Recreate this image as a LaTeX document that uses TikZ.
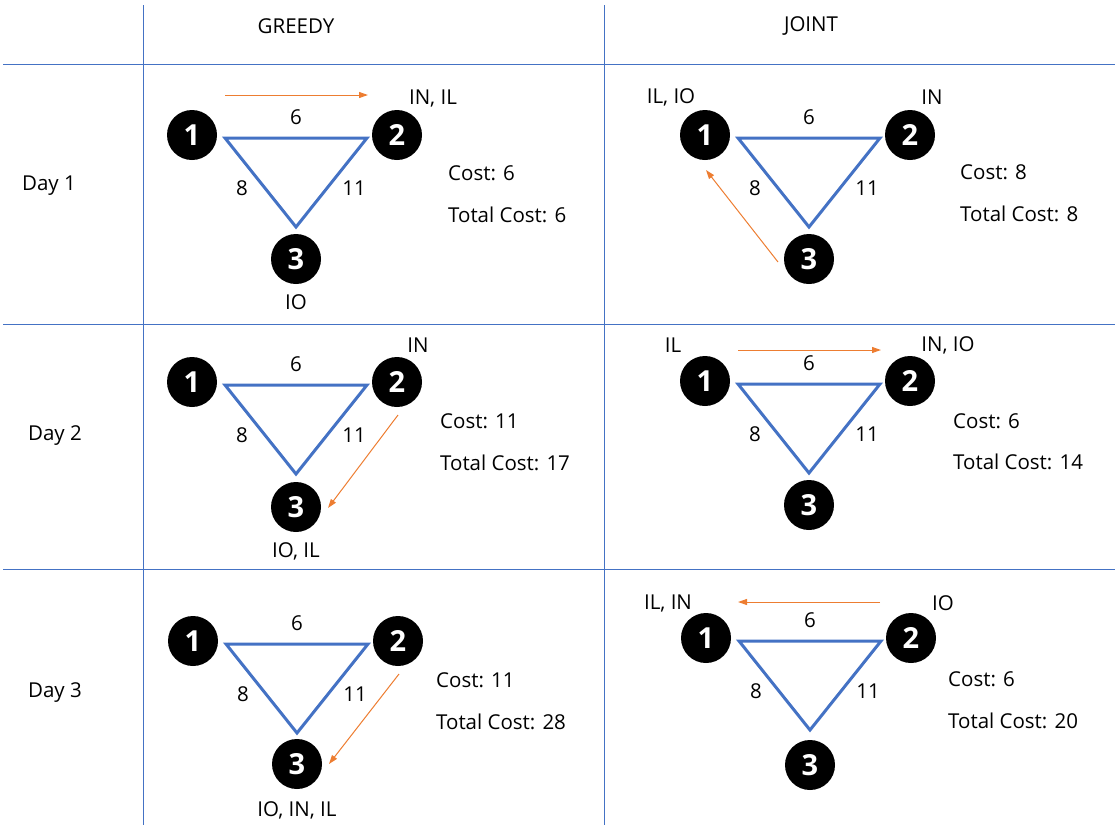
\documentclass[tikz,border=0pt]{standalone}
\usepackage{fontspec}
\setmainfont{Open Sans}
\usetikzlibrary{arrows.meta}
\definecolor{gridblue}{RGB}{68,114,196}
\definecolor{edgeblue}{RGB}{68,114,196}
\definecolor{arroworange}{RGB}{237,125,49}
\tikzset{
  gridline/.style={draw=gridblue,line width=1pt},
  vert/.style={circle,fill=black,minimum size=50pt,inner sep=0pt,text=white,font=\fontsize{29}{31}\selectfont\bfseries},
  edgeline/.style={draw=edgeblue,line width=3pt,line join=miter},
  lbl/.style={font=\fontsize{20.5}{24}\selectfont,inner sep=0pt},
  costlbl/.style={lbl,anchor=west},
  movearrow/.style={draw=arroworange,line width=1pt,-{Triangle[length=9pt,width=6pt]}}
}
% #1 prefix, #2 x of node 1, #3 y of nodes 1,2, #4 y of node 3
\newcommand{\triCell}[4]{%
  \node[vert] (#1n1) at (#2,#3) {1};
  \node[vert] (#1n2) at ({#2+205},#3) {2};
  \node[vert] (#1n3) at ({#2+104},#4) {3};
  \coordinate (#1a) at ({#2+33},{#3+3});
  \coordinate (#1b) at ({#2+175},{#3+3});
  \coordinate (#1c) at ({#2+104},{#3+92});
  \draw[edgeline] (#1a) -- (#1b) -- (#1c) -- cycle;
  \node[lbl] (#1w12) at ({#2+104},{#3-18}) {6};
  \node[lbl] (#1w13) at ({#2+50},{#3+53}) {8};
  \node[lbl] (#1w23) at ({#2+162},{#3+53}) {11};
}
\begin{document}
\begin{tikzpicture}[x=1pt,y=-1pt]
\useasboundingbox (0,0) rectangle (1116,831);
% grid
\coordinate (gl1) at (3,64); \coordinate (gr1) at (1115,64);
\coordinate (gl2) at (3,324); \coordinate (gr2) at (1115,324);
\coordinate (gl3) at (3,569); \coordinate (gr3) at (1115,569);
\coordinate (gt1) at (143,5); \coordinate (gb1) at (143,825);
\coordinate (gt2) at (604,5); \coordinate (gb2) at (604,825);
\draw[gridline] (gl1) -- (gr1);
\draw[gridline] (gl2) -- (gr2);
\draw[gridline] (gl3) -- (gr3);
\draw[gridline] (gt1) -- (gb1);
\draw[gridline] (gt2) -- (gb2);
% headers
\node[lbl] (hg) at (296,26) {GREEDY};
\node[lbl] (hj) at (811,26) {JOINT};
\node[lbl] (d1) at (49,186) {Day 1};
\node[lbl] (d2) at (55,436) {Day 2};
\node[lbl] (d3) at (55,693) {Day 3};
% Greedy day 1
\triCell{ga}{192}{135}{259}
\node[lbl] (gaL2) at (433,98) {IN, IL};
\node[lbl] (gaL3) at (296,302) {IO};
\node[costlbl] (gaC) at (448,173) {Cost: 6};
\node[costlbl] (gaT) at (448,215) {Total Cost: 6};
\coordinate (gaS) at (225,95); \coordinate (gaE) at (368,95);
\draw[movearrow] (gaS) -- (gaE);
% Joint day 1
\triCell{ja}{705}{135}{259}
\node[lbl] (jaL1) at (671,97) {IL, IO};
\node[lbl] (jaL2) at (932,97) {IN};
\node[costlbl] (jaC) at (960,172) {Cost: 8};
\node[costlbl] (jaT) at (960,214) {Total Cost: 8};
\coordinate (jaS) at (778,262); \coordinate (jaE) at (706,170);
\draw[movearrow] (jaS) -- (jaE);
% Greedy day 2
\triCell{gb}{192}{382}{507}
\node[lbl] (gbL2) at (418,345) {IN};
\node[lbl] (gbL3) at (296,551) {IO, IL};
\node[costlbl] (gbC) at (440,421) {Cost: 11};
\node[costlbl] (gbT) at (440,463) {Total Cost: 17};
\coordinate (gbS) at (398,415); \coordinate (gbE) at (328,508);
\draw[movearrow] (gbS) -- (gbE);
% Joint day 2
\triCell{jb}{705}{381}{505}
\node[lbl] (jbL1) at (673,345) {IL};
\node[lbl] (jbL2) at (948,345) {IN, IO};
\node[costlbl] (jbC) at (953,421) {Cost: 6};
\node[costlbl] (jbT) at (953,462) {Total Cost: 14};
\coordinate (jbS) at (738,350); \coordinate (jbE) at (881,350);
\draw[movearrow] (jbS) -- (jbE);
% Greedy day 3
\triCell{gc}{193}{641}{764}
\node[lbl] (gcL3) at (297,810) {IO, IN, IL};
\node[costlbl] (gcC) at (436,680) {Cost: 11};
\node[costlbl] (gcT) at (436,722) {Total Cost: 28};
\coordinate (gcS) at (399,674); \coordinate (gcE) at (329,764);
\draw[movearrow] (gcS) -- (gcE);
% Joint day 3
\triCell{jc}{706}{638}{765}
\node[lbl] (jcL1) at (668,603) {IL, IN};
\node[lbl] (jcL2) at (943,603) {IO};
\node[costlbl] (jcC) at (948,679) {Cost: 6};
\node[costlbl] (jcT) at (948,721) {Total Cost: 20};
\coordinate (jcS) at (880,602); \coordinate (jcE) at (738,602);
\draw[movearrow] (jcS) -- (jcE);
\end{tikzpicture}
\end{document}
